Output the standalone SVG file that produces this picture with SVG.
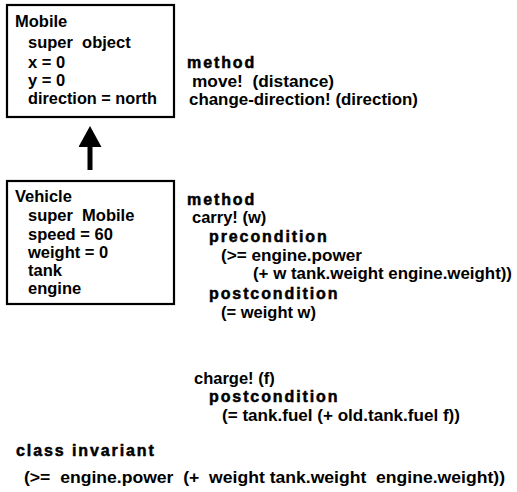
<svg xmlns="http://www.w3.org/2000/svg" width="517" height="492" viewBox="0 0 517 492">
  <style>
    text { font-family: "Liberation Sans", Arial, sans-serif; font-size: 16.5px; font-weight: bold; fill: #000; }
    .kw { font-size: 16px; letter-spacing: 1.9px; stroke: #000; stroke-width: 0.5px; }
    .box { fill: none; stroke: #000; stroke-width: 2.2; }
    .conn { stroke: #000; stroke-width: 5; fill: none; }
  </style>
  <defs>
    <marker id="head" markerUnits="userSpaceOnUse" markerWidth="22" markerHeight="24" refX="0" refY="11.5" orient="auto">
      <path d="M0,0 L21,11.5 L0,23 z" fill="#000"/>
    </marker>
  </defs>
  <rect width="517" height="492" fill="#fff"/>

  <g id="mobile">
    <rect class="box" x="7" y="5" width="167" height="112"/>
    <text x="15" y="27">Mobile</text>
    <text x="28" y="48" xml:space="preserve">super  object</text>
    <text x="28" y="68">x = 0</text>
    <text x="28" y="86">y = 0</text>
    <text x="28" y="104" textLength="129" lengthAdjust="spacingAndGlyphs">direction = north</text>
  </g>

  <g id="mobile-methods">
    <text class="kw" x="187" y="68">method</text>
    <text x="192" y="87" xml:space="preserve" textLength="142" lengthAdjust="spacingAndGlyphs">move!  (distance)</text>
    <text x="189" y="105" textLength="229" lengthAdjust="spacingAndGlyphs">change-direction! (direction)</text>
  </g>

  <g id="vehicle">
    <rect class="box" x="7" y="181" width="167" height="123"/>
    <text x="15" y="202">Vehicle</text>
    <text x="28" y="221" xml:space="preserve">super  Mobile</text>
    <text x="28" y="240">speed = 60</text>
    <text x="28" y="258">weight = 0</text>
    <text x="28" y="276">tank</text>
    <text x="28" y="294">engine</text>
  </g>

  <g id="vehicle-methods">
    <text class="kw" x="187" y="205">method</text>
    <text x="192" y="223">carry! (w)</text>
    <text class="kw" x="209" y="242">precondition</text>
    <text x="221" y="261" textLength="141" lengthAdjust="spacingAndGlyphs">(&gt;= engine.power</text>
    <text x="253" y="279" textLength="259" lengthAdjust="spacingAndGlyphs">(+ w tank.weight engine.weight))</text>
    <text class="kw" x="209" y="299">postcondition</text>
    <text x="221" y="318">(= weight w)</text>
    <text x="194" y="384">charge! (f)</text>
    <text class="kw" x="209" y="402">postcondition</text>
    <text x="222" y="421" textLength="238" lengthAdjust="spacingAndGlyphs">(= tank.fuel (+ old.tank.fuel f))</text>
  </g>

  <g id="class-invariant">
    <text class="kw" x="16" y="456">class invariant</text>
    <text x="24" y="483" xml:space="preserve" textLength="481" lengthAdjust="spacingAndGlyphs">(&gt;=  engine.power  (+  weight tank.weight  engine.weight))</text>
  </g>

  <g id="connectors">
    <line class="conn" x1="90" y1="170" x2="90" y2="147" marker-end="url(#head)"/>
  </g>
</svg>
